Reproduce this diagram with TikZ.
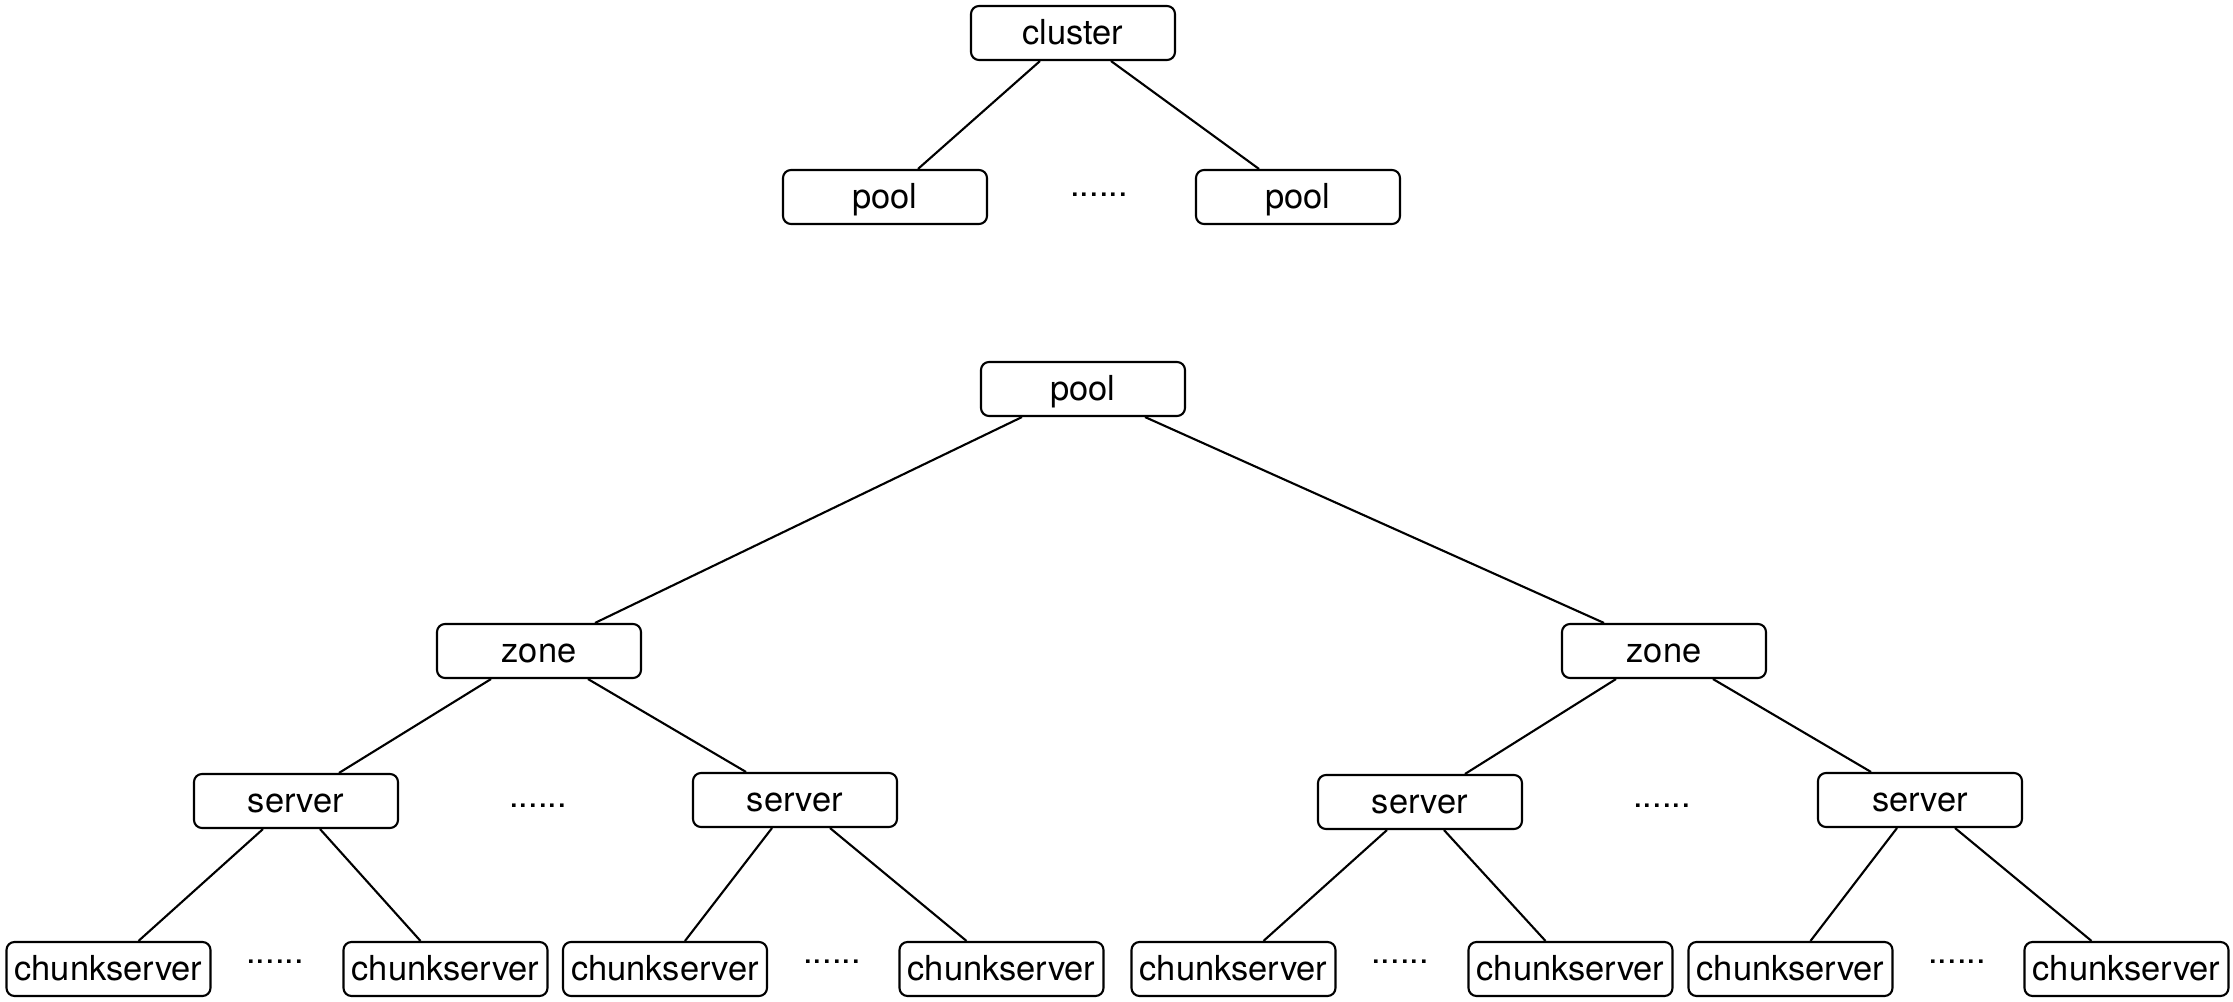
\documentclass[tikz,border=0pt]{standalone}
\usepackage{fontspec}
\setmainfont{TeX Gyre Heros}
\usepackage{tikz}
\usetikzlibrary{calc}

\tikzset{
  box/.style={draw=black, line width=0.6pt, rounded corners=0.08cm,
    minimum width=2.04cm, minimum height=0.54cm, inner sep=0pt,
    text height=0.82em, text depth=0.18em,
    font=\fontsize{9.8}{11}\selectfont},
  more/.style={inner sep=0pt, font=\fontsize{9.8}{11}\selectfont},
  link/.style={black, line width=0.6pt}
}

\begin{document}
\begin{tikzpicture}
\useasboundingbox (0cm,0cm) rectangle (22.33cm,-10.02cm);
% upper tree
\node[box] (cluster) at (10.73cm,-0.33cm) {cluster};
\node[box] (poolA) at (8.85cm,-1.97cm) {pool};
\node[box] (poolB) at (12.98cm,-1.97cm) {pool};
\node[more] (dotsA) at (10.99cm,-1.95cm) {......};
\draw[link] ([xshift=-0.33cm]cluster.south) -- ([xshift=0.33cm]poolA.north);
\draw[link] ([xshift=0.38cm]cluster.south) -- ([xshift=-0.39cm]poolB.north);
% lower tree
\node[box] (pool) at (10.83cm,-3.89cm) {pool};
\node[box] (zoneL) at (5.39cm,-6.51cm) {zone};
\node[box] (zoneR) at (16.64cm,-6.51cm) {zone};
\draw[link] ([xshift=-0.61cm]pool.south) -- ([xshift=0.56cm]zoneL.north);
\draw[link] ([xshift=0.62cm]pool.south) -- ([xshift=-0.60cm]zoneR.north);
\node[box] (srv1) at (2.96cm,-8.01cm) {server};
\node[box] (srv2) at (7.95cm,-8.00cm) {server};
\node[box] (srv3) at (14.20cm,-8.02cm) {server};
\node[box] (srv4) at (19.20cm,-8.00cm) {server};
\node[more] (dotsB) at (5.38cm,-8.06cm) {......};
\node[more] (dotsC) at (16.62cm,-8.06cm) {......};
\draw[link] ([xshift=-0.48cm]zoneL.south) -- ([xshift=0.43cm]srv1.north);
\draw[link] ([xshift=0.49cm]zoneL.south) -- ([xshift=-0.49cm]srv2.north);
\draw[link] ([xshift=-0.48cm]zoneR.south) -- ([xshift=0.45cm]srv3.north);
\draw[link] ([xshift=0.49cm]zoneR.south) -- ([xshift=-0.49cm]srv4.north);
% chunkservers
\foreach \i/\x in {1/1.085,2/4.455,3/6.65,4/10.015,5/12.335,6/15.705,7/17.905,8/21.265}
  \node[box] (chunk\i) at (\x cm,-9.69cm) {chunkserver};
\foreach \i/\x in {1/2.75,2/8.32,3/14.00,4/19.57}
  \node[more] (dotsD\i) at (\x cm,-9.62cm) {......};
\foreach \s/\a/\b in {1/1/2,2/3/4,3/5/6,4/7/8}{
  \pgfmathsetmacro{\lo}{ifthenelse(mod(\s,2)==1,-0.33,-0.23)}
  \pgfmathsetmacro{\li}{ifthenelse(mod(\s,2)==1,0.30,0.20)}
  \pgfmathsetmacro{\ro}{ifthenelse(mod(\s,2)==1,0.24,0.35)}
  \pgfmathsetmacro{\ri}{ifthenelse(mod(\s,2)==1,-0.25,-0.35)}
  \draw[link] ([xshift=\lo cm]srv\s.south) -- ([xshift=\li cm]chunk\a.north);
  \draw[link] ([xshift=\ro cm]srv\s.south) -- ([xshift=\ri cm]chunk\b.north);
}
\end{tikzpicture}
\end{document}
